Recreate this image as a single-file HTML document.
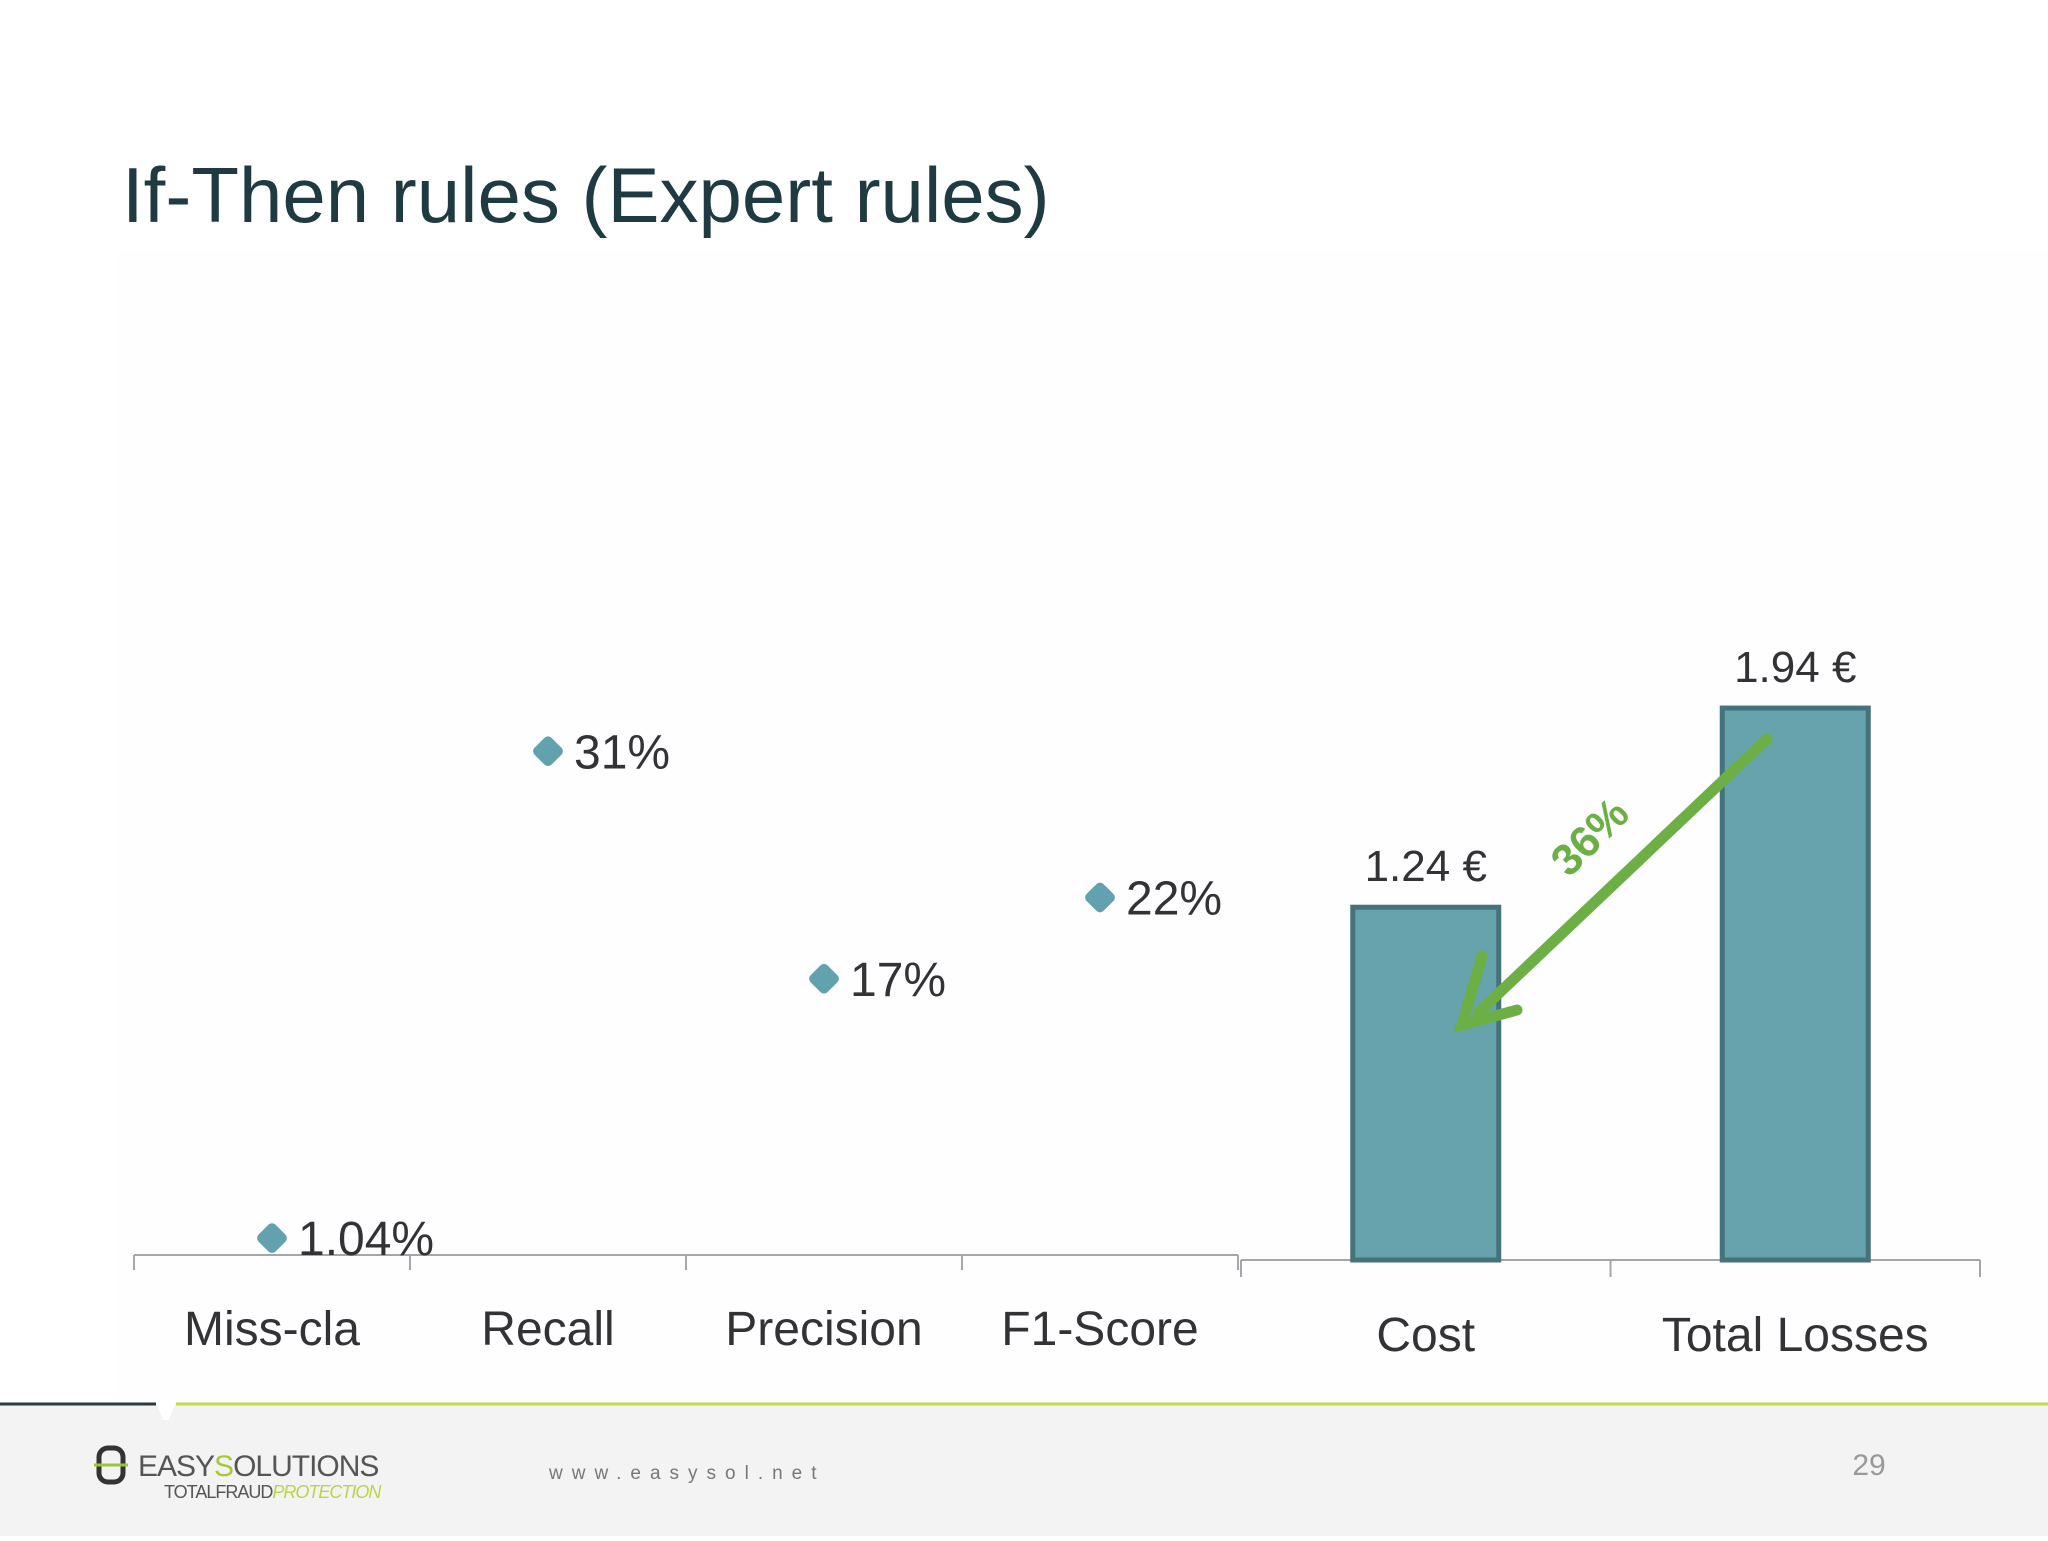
<!DOCTYPE html>
<html><head><meta charset="utf-8"><style>
body{margin:0;width:2048px;height:1536px;overflow:hidden;background:#fff;font-family:"Liberation Sans",sans-serif;}
</style></head><body>
<svg width="2048" height="1536" viewBox="0 0 2048 1536" xmlns="http://www.w3.org/2000/svg" id="chart">
<rect x="118" y="250" width="1930" height="1150" fill="#fefdff"/>
<text x="122" y="222" font-size="78" fill="#1f3a40" font-family="Liberation Sans, sans-serif">If-Then rules (Expert rules)</text>
<g id="left"></g><g id="right"></g>
<rect x="0" y="1404" width="2048" height="132" fill="#f3f3f4"/>
<line x1="0" y1="1404" x2="156" y2="1404" stroke="#2b3a40" stroke-width="3"/>
<line x1="176" y1="1404" x2="2048" y2="1404" stroke="#c5d84a" stroke-width="3"/>
<polygon points="156,1402 176,1402 169,1420 163,1420" fill="#fff"/>
<g>
<rect x="99" y="1448" width="24" height="34" rx="9" fill="none" stroke="#333" stroke-width="5"/>
<line x1="94" y1="1465" x2="128" y2="1465" stroke="#9cc43a" stroke-width="3"/>
<text x="138" y="1476" font-size="30" fill="#555" letter-spacing="-1">EASY<tspan fill="#a8c83a">S</tspan>OLUTIONS</text>
<text x="164" y="1498" font-size="18" fill="#555" letter-spacing="-1">TOTALFRAUD<tspan fill="#b9d448" font-style="italic">PROTECTION</tspan></text>
</g>
<text x="549" y="1479" font-size="19" fill="#777" letter-spacing="9">www.easysol.net</text>
<text x="1869" y="1475" font-size="30" fill="#999" text-anchor="middle">29</text>
</svg>
<script>
const ns='http://www.w3.org/2000/svg';
const metricCats=['Miss-cla','Recall','Precision','F1-Score'];
const metricVals=[1.04,31,17,22];
const metricLabels=['1.04%','31%','17%','22%'];
const costCats=['Cost','Total Losses'];
const costVals=[1.24,1.94];
const costLabels=['1.24 €','1.94 €'];
const reductionLabel='36%';
function mk(t,a,p){const e=document.createElementNS(ns,t);for(const k in a)e.setAttribute(k,a[k]);p.appendChild(e);return e;}
const L=document.getElementById('left'),R=document.getElementById('right');
const lx0=134,lx1=1238,ly0=1255,pxPer=16.25;
const lBand=(lx1-lx0)/metricCats.length;
const lxs=i=>lx0+lBand*(i+0.5);
const lys=v=>ly0-v*pxPer;
let ax=mk('line',{x1:lx0,y1:ly0,x2:lx1,y2:ly0,stroke:'#a6a6a6','stroke-width':2},L);


for(let i=0;i<=metricCats.length;i++){const t=mk('line',{x1:lx0+lBand*i,y1:ly0,x2:lx0+lBand*i,y2:ly0+15,stroke:'#a6a6a6','stroke-width':2},L);

}
metricCats.forEach((c,i)=>{
 const x=lxs(i),y=lys(metricVals[i]);
 const lb=mk('text',{x:x,y:1345,'font-size':48,fill:'#333','text-anchor':'middle'},L);lb.textContent=c;
 
 
 const d=mk('rect',{x:x-12,y:y-12,width:24,height:24,rx:5,fill:'#62a2ae',transform:`rotate(45 ${x} ${y})`},L);
 
 
 const v=mk('text',{x:x+26,y:y+17,'font-size':48,fill:'#333'},L);v.textContent=metricLabels[i];
 
 
});
const rx0=1241,rx1=1980,ry0=1260,eur=284.5;
const rBand=(rx1-rx0)/costCats.length;
const rxs=i=>rx0+rBand*(i+0.5);
const rys=v=>ry0-v*eur;
let ax2=mk('line',{x1:rx0,y1:ry0,x2:rx1,y2:ry0,stroke:'#a6a6a6','stroke-width':2},R);


for(let i=0;i<=costCats.length;i++){const t=mk('line',{x1:rx0+rBand*i,y1:ry0,x2:rx0+rBand*i,y2:ry0+17,stroke:'#a6a6a6','stroke-width':2},R);

}
const bw=146;
costCats.forEach((c,i)=>{
 const x=rxs(i),y=rys(costVals[i]);
 const b=mk('rect',{x:x-bw/2,y:y,width:bw,height:ry0-y,fill:'#67a3ad',stroke:'#44737c','stroke-width':5},R);
 
 
 const v=mk('text',{x:x,y:y-26,'font-size':44,fill:'#333','text-anchor':'middle'},R);v.textContent=costLabels[i];
 
 
 const lb=mk('text',{x:x,y:1351,'font-size':48,fill:'#333','text-anchor':'middle'},R);lb.textContent=c;
 
 
});
const ag=mk('g',{},R);


mk('line',{x1:1767,y1:739,x2:1478,y2:1013,stroke:'#6cb045','stroke-width':11,'stroke-linecap':'round'},ag);
mk('polyline',{points:'1482,956 1462,1025 1517,1010',fill:'none',stroke:'#6cb045','stroke-width':11,'stroke-linecap':'round','stroke-linejoin':'miter'},ag);
const pt=mk('text',{x:1589,y:852,'font-size':44,'font-weight':'bold',fill:'#6cb045','text-anchor':'middle',transform:'rotate(-45 1589 836)'},R);
pt.textContent=reductionLabel;


</script>
</body></html>
